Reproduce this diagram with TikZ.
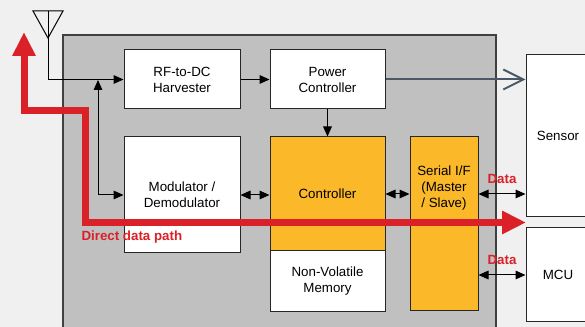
\documentclass[tikz,border=0pt]{standalone}
\usepackage{fontspec}
\setmainfont{Liberation Sans}
\usetikzlibrary{%
  arrows.meta,%
  positioning% wg. " of "
}
\definecolor{bggray}{HTML}{F0F0F0}
\definecolor{chipgray}{HTML}{C0C0C0}
\definecolor{coreorange}{HTML}{FBB829}
\definecolor{pathred}{HTML}{DA2128}
\definecolor{slate}{HTML}{4B5966}

\begin{document}
\begin{tikzpicture}
  [
  x=0.75pt, y=-0.75pt, line width=0.75pt, >={Triangle[length=7.5pt,width=6.5pt]},
  font=\fontsize{10}{12}\selectfont,
  block/.style={rectangle, draw=black!85, fill=white, align=center, inner sep=0pt},
  core/.style={block, fill=coreorange},
  datalabel/.style={text=pathred, font=\fontsize{10}{12}\selectfont\bfseries},
  datapath/.style={draw=pathred, line width=5.25pt,
    {Triangle[length=18pt,width=16.5pt]}-{Triangle[length=18pt,width=16.5pt]}}
  ]

  \clip (0,0) rectangle (585,327);
  \fill[bggray] (0,0) rectangle (585,327);

  % chip outline
  \node[rectangle, draw=black!75, line width=1.5pt, fill=chipgray,
    minimum width=324.75pt, minimum height=243.75pt] (chip) at (279.5,197.5) {};

  % blocks inside the chip
  \node[block, minimum width=87pt, minimum height=44.25pt] (rf) at (182,79.5) {RF-to-DC\\Harvester};
  \node[block, minimum width=86.25pt, minimum height=44.25pt] (pwr) at (327.5,79.5) {Power\\Controller};
  \node[block, minimum width=87pt, minimum height=87pt] (mod) at (182,195) {Modulator /\\Demodulator};
  \node[core, minimum width=86.25pt, minimum height=85.5pt] (ctrl) at (327.5,194) {Controller};
  \node[block, minimum width=86.25pt, minimum height=45.75pt] (nvm) at (327.5,281.5) {Non-Volatile\\Memory};
  \node[core, minimum width=51pt, minimum height=130.5pt,
    label={[anchor=north, align=center, yshift=-18pt]north:Serial I/F\\(Master\\/ Slave)}] (sif) at (444,224) {};

  % outside blocks
  \node[block, minimum width=48pt, minimum height=121.5pt] (sensor) at (558,136) {Sensor};
  \node[block, minimum width=48pt, minimum height=70.5pt] (mcu) at (558,275) {MCU};

  % antenna
  \coordinate (ant) at (48,11);
  \coordinate (tap) at (98,80);
  \draw (33,11) -- (48,38) -- (63,11) -- cycle;
  \draw[->] (ant) |- (rf.west);
  \draw[<->] (mod.west) -| (tap);

  % internal connections
  \draw[->] (rf.east) -- (pwr.west);
  \draw[->] (pwr.south) -- (ctrl.north);
  \draw[<->] (mod.east) -- (mod.east -| ctrl.west);
  \draw[<->] (ctrl.east) -- (ctrl.east -| sif.west);
  \draw[draw=slate, line width=1.5pt, -{Straight Barb[length=15pt,width=15pt]}]
    (pwr.east) -- (pwr.east -| sensor.west);

  % data links
  \draw[<->] (ctrl.east -| sif.east) -- (ctrl.east -| sensor.west)
    node[datalabel, midway, above=4pt] {Data};
  \draw[<->] (mcu.west -| sif.east) -- (mcu.west)
    node[datalabel, midway, above=4pt] {Data};

  % direct data path
  \coordinate (ptop) at (24,32);
  \coordinate (pjog) at (85,111);
  \coordinate (pend) at (526,222.5);
  \draw[datapath] (ptop) |- (pjog) |- (pend);
  \node[datalabel, anchor=west, inner sep=0pt] (pathlabel) at (81,237) {Direct data path};
\end{tikzpicture}
\end{document}
